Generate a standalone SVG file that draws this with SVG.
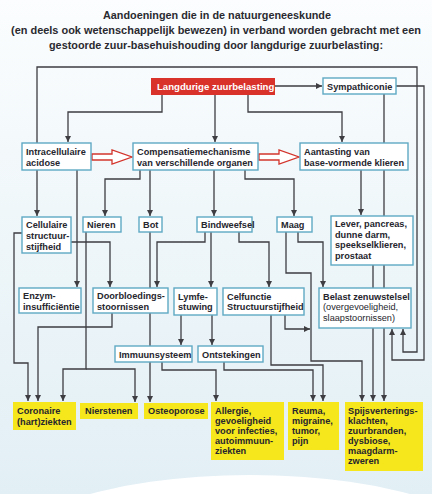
<svg xmlns="http://www.w3.org/2000/svg" width="432" height="494" viewBox="0 0 432 494">
<defs>
<linearGradient id="bg" x1="0" y1="0" x2="0" y2="1">
<stop offset="0" stop-color="#fbfdfe"/>
<stop offset="0.5" stop-color="#eef6f9"/>
<stop offset="1" stop-color="#e2eff5"/>
</linearGradient>
<marker id="ah" markerWidth="6" markerHeight="6" refX="6" refY="3" orient="auto" markerUnits="userSpaceOnUse">
<path d="M0,0 L6,3 L0,6 Z" fill="#3d3d42"/>
</marker>
<style>
.t{font-family:"Liberation Sans",Arial,sans-serif;font-size:9.2px;font-weight:bold;fill:#26262e}
.n{font-weight:normal}
.ti{font-family:"Liberation Sans",Arial,sans-serif;font-size:11px;font-weight:bold;fill:#2a2a30;text-anchor:middle}
.b rect{fill:#ffffff;stroke:#5fa9c4;stroke-width:1.4}
.y rect{fill:#f6e61c}
.c path{fill:none;stroke:#3d3d42;stroke-width:1.3}
.c path.a{marker-end:url(#ah)}
.c path.ha{fill:#ffffff;stroke:#d3342c;stroke-width:1.3}
</style>
</defs>
<rect width="432" height="494" fill="url(#bg)"/>
<ellipse cx="250" cy="565" rx="260" ry="90" fill="#ffffff"/>

<g id="title">
<text class="ti" x="217" y="19" textLength="228" lengthAdjust="spacingAndGlyphs">Aandoeningen die in de natuurgeneeskunde</text>
<text class="ti" x="216" y="34" style="font-size:10.4px" textLength="410" lengthAdjust="spacingAndGlyphs">(en deels ook wetenschappelijk bewezen) in verband worden gebracht met een</text>
<text class="ti" x="216" y="49" textLength="334" lengthAdjust="spacingAndGlyphs">gestoorde zuur-basehuishouding door langdurige zuurbelasting:</text>
</g>

<g id="connectors" class="c">
<path class="a" d="M275,86 H322"/>
<path class="a" d="M215,95 V142"/>
<path class="a" d="M162,95 V112 H68 V142"/>
<path class="a" d="M248,95 V112 H342 V142"/>
<path class="a" d="M37,170 V216"/>
<path class="a" d="M37,143 V67 H417 V352 H403 V329"/>
<path class="a" d="M396,86 H424 V360 H392 V329"/>
<path class="a" d="M384,94 V401"/>
<path class="a" d="M77,170 V287"/>
<path class="a" d="M140,170 V179 H105 V216"/>
<path class="a" d="M150,170 V216"/>
<path class="a" d="M214,170 V216"/>
<path class="a" d="M245,170 V179 H294 V216"/>
<path class="a" d="M361,170 V215"/>
<path class="a" d="M71,242 H110 V287"/>
<path class="a" d="M22,233 H14 V363 H28 V401"/>
<path class="a" d="M86,232 V369 H63 V401"/>
<path class="a" d="M86,369 H135 V402"/>
<path class="a" d="M150,232 V402"/>
<path class="a" d="M205,232 V242 H157 V287"/>
<path class="a" d="M211,232 V287"/>
<path class="a" d="M239,232 V242 H269 V287"/>
<path class="a" d="M298,232 V242 H323 V287"/>
<path class="a" d="M286,232 V273 H311 V361 H362 V401"/>
<path class="a" d="M373,265 V401"/>
<path class="a" d="M112,313 V327 H38 V401"/>
<path class="a" d="M181,315 V345"/>
<path class="a" d="M212,315 V345"/>
<path class="a" d="M162,362 V370 H216 V401"/>
<path class="a" d="M224,362 V370 H313 V401"/>
<path class="a" d="M271,315 V365 H323 V401"/>
<path class="a" d="M285,315 V329 H310"/>
<path class="ha" d="M92,154 H112 V150 L132,157 L112,164 V160 H92 Z"/>
<path class="ha" d="M259,154 H279 V150 L299,157 L279,164 V160 H259 Z"/>
</g>

<g id="langdurige">
<rect x="151" y="78" width="124" height="17" fill="#d8322b"/>
<text class="t" x="157" y="90" style="fill:#ffffff;font-size:9.6px">Langdurige zuurbelasting</text>
</g>
<g id="sympathiconie" class="b">
<rect x="323" y="78" width="73" height="16"/>
<text class="t" x="327" y="90">Sympathiconie</text>
</g>
<g id="intracellulaire" class="b">
<rect x="22" y="143" width="69" height="27"/>
<text class="t" x="26" y="155">Intracellulaire</text>
<text class="t" x="26" y="166">acidose</text>
</g>
<g id="compensatie" class="b">
<rect x="133" y="143" width="125" height="27"/>
<text class="t" x="137" y="155">Compensatiemechanisme</text>
<text class="t" x="137" y="166">van verschillende organen</text>
</g>
<g id="aantasting" class="b">
<rect x="300" y="143" width="108" height="27"/>
<text class="t" x="304" y="155">Aantasting van</text>
<text class="t" x="304" y="166">base-vormende klieren</text>
</g>
<g id="cellulaire" class="b">
<rect x="22" y="217" width="49" height="36"/>
<text class="t" x="26" y="228">Cellulaire</text>
<text class="t" x="26" y="239">structuur-</text>
<text class="t" x="26" y="250">stijfheid</text>
</g>
<g id="nieren" class="b">
<rect x="83" y="217" width="38" height="15"/>
<text class="t" x="87" y="228">Nieren</text>
</g>
<g id="bot" class="b">
<rect x="139" y="217" width="23" height="15"/>
<text class="t" x="143" y="228">Bot</text>
</g>
<g id="bindweefsel" class="b">
<rect x="197" y="217" width="55" height="15"/>
<text class="t" x="201" y="228">Bindweefsel</text>
</g>
<g id="maag" class="b">
<rect x="277" y="217" width="35" height="15"/>
<text class="t" x="281" y="228">Maag</text>
</g>
<g id="lever" class="b">
<rect x="331" y="216" width="82" height="49"/>
<text class="t" x="335" y="227">Lever, pancreas,</text>
<text class="t" x="335" y="237.5">dunne darm,</text>
<text class="t" x="335" y="248">speekselklieren,</text>
<text class="t" x="335" y="258.5">prostaat</text>
</g>
<g id="enzym" class="b">
<rect x="19" y="288" width="62" height="25"/>
<text class="t" x="23" y="299">Enzym-</text>
<text class="t" x="23" y="309.5">insufficiëntie</text>
</g>
<g id="doorbloedings" class="b">
<rect x="93" y="288" width="75" height="25"/>
<text class="t" x="97" y="299">Doorbloedings-</text>
<text class="t" x="97" y="309.5">stoornissen</text>
</g>
<g id="lymfe" class="b">
<rect x="174" y="288" width="43" height="27"/>
<text class="t" x="178" y="299.5">Lymfe-</text>
<text class="t" x="178" y="310">stuwing</text>
</g>
<g id="celfunctie" class="b">
<rect x="223" y="288" width="81" height="27"/>
<text class="t" x="227" y="299.5">Celfunctie</text>
<text class="t" x="227" y="310">Structuurstijfheid</text>
</g>
<g id="belast" class="b">
<rect x="319" y="288" width="92" height="40"/>
<text class="t" x="323" y="299.5">Belast zenuwstelsel</text>
<text class="t n" x="323" y="310">(overgevoeligheid,</text>
<text class="t n" x="323" y="320.5">slaapstoornissen)</text>
</g>
<g id="immuunsysteem" class="b">
<rect x="115" y="346" width="77" height="16"/>
<text class="t" x="119" y="358">Immuunsysteem</text>
</g>
<g id="ontstekingen" class="b">
<rect x="198" y="346" width="65" height="16"/>
<text class="t" x="202" y="358">Ontstekingen</text>
</g>

<g id="coronaire" class="y">
<rect x="13" y="402" width="63" height="28"/>
<text class="t" x="17" y="414">Coronaire</text>
<text class="t" x="17" y="424.5">(hart)ziekten</text>
</g>
<g id="nierstenen" class="y">
<rect x="80" y="403" width="58" height="16"/>
<text class="t" x="85" y="414">Nierstenen</text>
</g>
<g id="osteoporose" class="y">
<rect x="144" y="403" width="64" height="16"/>
<text class="t" x="148" y="414">Osteoporose</text>
</g>
<g id="allergie" class="y">
<rect x="211" y="402" width="73" height="58"/>
<text class="t" x="215" y="414">Allergie,</text>
<text class="t" x="215" y="424">gevoeligheid</text>
<text class="t" x="215" y="434">voor infecties,</text>
<text class="t" x="215" y="444">autoimmuun-</text>
<text class="t" x="215" y="454">ziekten</text>
</g>
<g id="reuma" class="y">
<rect x="288" y="402" width="51" height="48"/>
<text class="t" x="292" y="414">Reuma,</text>
<text class="t" x="292" y="424">migraine,</text>
<text class="t" x="292" y="434">tumor,</text>
<text class="t" x="292" y="444">pijn</text>
</g>
<g id="spijsvertering" class="y">
<rect x="345" y="402" width="78" height="69"/>
<text class="t" x="348" y="414">Spijsverterings-</text>
<text class="t" x="348" y="424">klachten,</text>
<text class="t" x="348" y="434">zuurbranden,</text>
<text class="t" x="348" y="444">dysbiose,</text>
<text class="t" x="348" y="454">maagdarm-</text>
<text class="t" x="348" y="464">zweren</text>
</g>
</svg>
